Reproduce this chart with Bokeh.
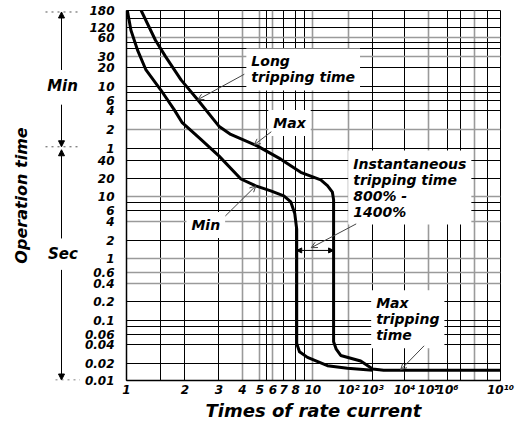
import numpy as np
from bokeh.plotting import figure
from bokeh.layouts import row
from bokeh.models import Range1d, FixedTicker, Grid, Label, Arrow, NormalHead, OpenHead
from bokeh.embed import file_html
from bokeh.resources import INLINE

# ---------------- data (real units) ----------------
# x: times of rate current, y: operation time in seconds
MIN_X = [1.01, 1.054, 1.14, 1.26, 1.5, 1.76, 1.93, 2.42, 3.0, 3.93, 4.75, 5.83, 7.0, 7.57, 7.91, 8.1, 8.1, 8.4, 9.33, 25.6, 92, 1000]
MIN_Y = [10800, 6000, 2268, 1098, 538, 245, 155, 83, 46.3, 20, 15.3, 12.6, 10.4, 8.3, 5.4, 3.0, 0.042, 0.031, 0.0252, 0.0184, 0.0165, 0.0153]

MAX_X = [1.19, 1.41, 1.59, 1.91, 2.33, 3.0, 3.47, 4.86, 6.71, 8.54, 9.74, 16.7, 25.6, 35.2, 38, 38, 45, 60, 316, 1000, 2200, 1e10]
MAX_Y = [10800, 3236, 1800, 769, 373, 135, 100, 65, 41.4, 25.6, 22.3, 19.3, 15.5, 12.0, 9.0, 0.045, 0.034, 0.027, 0.022, 0.016, 0.0152, 0.0152]

X_TICKS = [1, 2, 3, 4, 5, 6, 7, 8, 10, 1e2, 1e3, 1e4, 1e5, 1e6, 1e10]
X_TICK_LABELS = ["1", "2", "3", "4", "5", "6", "7", "8", "10", "10²", "10³", "10⁴", "10⁵", "10⁶", "10¹⁰"]

# seconds (minutes section first)
Y_TICKS = [10800, 7200, 3600, 1800, 1200, 600, 360, 240, 120, 60, 40, 20, 10, 6, 4, 2, 1,
           0.6, 0.4, 0.2, 0.1, 0.06, 0.04, 0.02, 0.01]
Y_TICK_LABELS = ["180", "120", "60", "30", "20", "10", "6", "4", "2", "1", "40", "20", "10", "6", "4", "2", "1",
                 "0.6", "0.4", "0.2", "0.1", "0.06", "0.04", "0.02", "0.01"]

X_GRID_BLACK = [1.5, 2, 3, 5.5, 7, 8, 9, 1e3, 1e4, 1e6, 1e7, 1e9]
X_GRID_GREY = [4, 5, 6, 10, 1e2, 1e5, 1e8]
Y_GRID_BLACK = [9000, 7200, 3000, 2400, 1200, 600, 480, 360, 240, 60, 40, 20, 8, 6, 2, 0.2, 0.1, 0.08, 0.06, 0.04, 0.02]
Y_GRID_GREY = [3600, 1800, 120, 10, 4, 1, 0.6, 0.4]

# ---------------- custom piecewise-log scale layout ----------------
X_TICK_POS = [0, 58.5, 92.5, 116, 133.5, 146.5, 157.5, 169.5, 186.5, 222.5, 246.5, 278.5, 302.5, 321.5, 374.5]
Y_TICK_POS = [373.3, 355.8, 346.3, 326.8, 315.8, 296.3, 282.3, 272.8, 253.3, 234.3, 222.3, 203.3, 185.3,
              171.3, 160.3, 141.6, 123.3, 108.8, 98.3, 79.3, 60.6, 46.3, 36.0, 17.0, 0.0]

_yo = np.argsort(Y_TICKS)
_ylog = np.log10(np.array(Y_TICKS, dtype=float)[_yo])
_ypos = np.array(Y_TICK_POS)[_yo]


def xs(v):
    return np.round(np.interp(np.log10(np.asarray(v, dtype=float)), np.log10(X_TICKS), X_TICK_POS), 3)


def ys(v):
    return np.round(np.interp(np.log10(np.asarray(v, dtype=float)), _ylog, _ypos), 3)


FONT = "DejaVu Sans"
H = 423
TOP, BOTTOM = 10, 40
yr = Range1d(0, 373.3)

p = figure(width=438, height=H, output_backend="svg", toolbar_location=None,
           x_range=Range1d(0, 374.5), y_range=yr,
           min_border_left=46, min_border_right=18, min_border_top=TOP, min_border_bottom=BOTTOM)
p.xgrid.visible = False
p.ygrid.visible = False
p.outline_line_color = "black"
p.outline_line_width = 1
p.background_fill_color = "white"

# axes
xt = [float(t) for t in xs(X_TICKS)]
yt = [float(t) for t in ys(Y_TICKS)]
p.xaxis.ticker = FixedTicker(ticks=xt)
p.xaxis.major_label_overrides = {t: l for t, l in zip(xt, X_TICK_LABELS)}
p.yaxis.ticker = FixedTicker(ticks=yt)
p.yaxis.major_label_overrides = {t: l for t, l in zip(yt, Y_TICK_LABELS)}
for ax in (p.xaxis, p.yaxis):
    ax.major_tick_in = 0
    ax.major_tick_out = 0
    ax.minor_tick_line_color = None
    ax.axis_line_width = 1.5
    ax.major_label_text_font = FONT
    ax.major_label_text_font_style = "bold italic"
    ax.major_label_text_font_size = "12px"
    ax.major_label_text_color = "black"
    ax.major_label_text_line_height = 1.0
    ax.axis_label_text_font = FONT
    ax.axis_label_text_font_style = "bold italic"
    ax.axis_label_text_color = "black"
    ax.axis_label_text_line_height = 1.0
p.xaxis.major_label_standoff = 2
p.yaxis.major_label_standoff = 12
p.xaxis.axis_label = "Times of rate current"
p.xaxis.axis_label_text_font_size = "18px"
p.xaxis.axis_label_standoff = 0

# grids
for dim, vals, col, w in ((0, xs(X_GRID_BLACK), "black", 1), (0, xs(X_GRID_GREY), "#9a9a9a", 1.6),
                          (1, ys(Y_GRID_BLACK), "black", 1), (1, ys(Y_GRID_GREY), "#9a9a9a", 1.6)):
    g = Grid(dimension=dim, ticker=FixedTicker(ticks=[float(v) for v in vals]),
             grid_line_color=col, grid_line_width=w)
    p.add_layout(g)

# curves
p.line(xs(MIN_X), ys(MIN_Y), line_color="black", line_width=3, line_join="round")
p.line(xs(MAX_X), ys(MAX_Y), line_color="black", line_width=3, line_join="round")


def label(fig, x, y, text, size="14px", align="left", baseline="top", bg=True):
    lb = Label(x=x, y=y, text=text, text_font=FONT, text_font_style="bold italic",
               text_font_size=size, text_align=align, text_baseline=baseline,
               text_color="black", text_line_height=1.0)
    if bg:
        lb.background_fill_color = "white"
        lb.padding = 5
    fig.add_layout(lb)


def arrow(fig, x0, y0, x1, y1, head=True, color="#444444", width=1, dash="solid", size=6):
    a = Arrow(x_start=x0, y_start=y0, x_end=x1, y_end=y1, line_color=color, line_width=width,
              line_dash=dash,
              end=OpenHead(size=size, line_color=color, line_width=1) if head else None)
    fig.add_layout(a)


# annotations inside the chart (anchor = top-left of the white box)
label(p, 120, 335, "Long\ntripping time")
arrow(p, 118, 309, float(xs(2.33)), float(ys(373)))
label(p, 142, 273, "Max")
arrow(p, 145, 251, float(xs(4.65)), float(ys(68)))
label(p, 60, 170, "Min")
arrow(p, 99, 166, float(xs(4.75)), float(ys(15.3)))
label(p, 222, 232, "Instantaneous\ntripping time\n800% -\n1400%")
arrow(p, 230, 158, 185, 134)
dbl = Arrow(x_start=float(xs(8.1)), y_start=float(ys(1.35)), x_end=float(xs(38)), y_end=float(ys(1.35)),
            line_color="black", line_width=1,
            start=NormalHead(size=5, fill_color="black", line_color="black"),
            end=NormalHead(size=5, fill_color="black", line_color="black"))
p.add_layout(dbl)
label(p, 245, 91, "Max\ntripping\ntime")
arrow(p, 298, 35, float(xs(7500)), float(ys(0.0155)))

# ---------------- left strip: axis title and Min / Sec ranges ----------------
q = figure(width=80, height=H, output_backend="svg", toolbar_location=None,
           x_range=Range1d(30, 80), y_range=yr, x_axis_location=None,
           min_border_left=30, min_border_right=0, min_border_top=TOP, min_border_bottom=BOTTOM)
q.xgrid.visible = False
q.ygrid.visible = False
q.outline_line_color = None
q.yaxis.ticker = FixedTicker(ticks=[])
q.yaxis.axis_line_color = None
q.yaxis.major_tick_line_color = None
q.yaxis.minor_tick_line_color = None
q.yaxis.major_label_standoff = 0
q.yaxis.axis_label = "Operation time"
q.yaxis.axis_label_standoff = 0
q.yaxis.axis_label_text_font = FONT
q.yaxis.axis_label_text_font_style = "bold italic"
q.yaxis.axis_label_text_font_size = "16px"
q.yaxis.axis_label_text_color = "black"

AX = 61
label(q, 62, 297.6, "Min", size="15px", align="center", baseline="middle", bg=False)
label(q, 62.5, 127.6, "Sec", size="15px", align="center", baseline="middle", bg=False)
top_v = float(ys(10800))
min_v = float(ys(60))
bot_v = float(ys(0.01))
for (v0, v1) in ((313.3, top_v - 1.5), (278.3, min_v + 1.5), (143.3, min_v - 1.5), (111.6, bot_v + 0.5)):
    a = Arrow(x_start=AX, y_start=v0, x_end=AX, y_end=v1, line_color="black", line_width=1,
              end=NormalHead(size=6, fill_color="black", line_color="black"))
    q.add_layout(a)
for (u0, u1, v) in ((45, 80, top_v - 1.5), (45, 80, min_v + 1.5), (55, 80, bot_v + 0.5)):
    arrow(q, u0, v, u1, v, head=False, color="#555555", dash="dotted")

open("out.html", "w").write(file_html(row(q, p), INLINE))
